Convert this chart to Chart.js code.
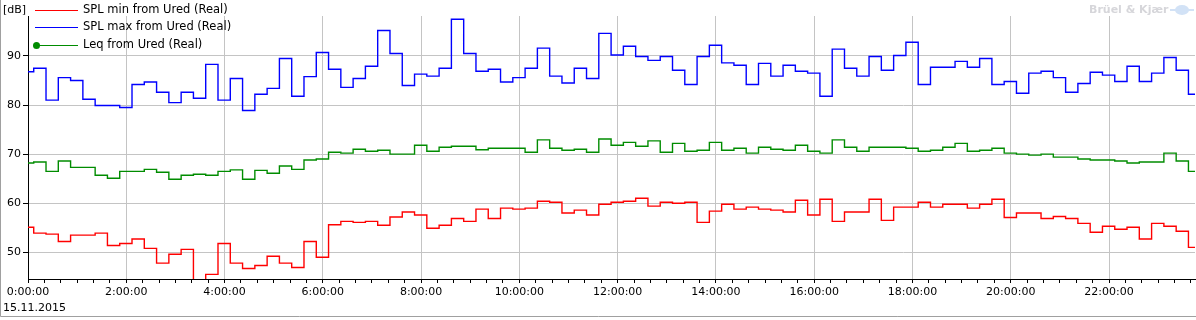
<!DOCTYPE html>
<html>
<head>
<meta charset="utf-8">
<title>Ured SPL 15.11.2015</title>
<script src="https://cdn.jsdelivr.net/npm/chart.js@4.4.0/dist/chart.umd.min.js"></script>
<style>
  html, body { margin: 0; padding: 0; background: #fff; overflow: hidden; }
  #wrap { width: 1196px; height: 320px; }
</style>
</head>
<body>
<div id="wrap"><canvas id="myChart" width="1196" height="320"></canvas></div>
<script>
// interval boundaries (hh:mm), last one is the end of the last interval
const timeMarks = [
  "0:00", "0:07", "0:22", "0:37", "0:52",
  "1:07", "1:22", "1:37", "1:52", "2:07", "2:22", "2:37", "2:52",
  "3:07", "3:22", "3:37", "3:52", "4:07", "4:22", "4:37", "4:52",
  "5:07", "5:22", "5:37", "5:52", "6:07", "6:22", "6:37", "6:52",
  "7:07", "7:22", "7:37", "7:52", "8:07", "8:22", "8:37", "8:52",
  "9:07", "9:22", "9:37", "9:52", "10:07", "10:22", "10:37", "10:52",
  "11:07", "11:22", "11:37", "11:52", "12:07", "12:22", "12:37", "12:52",
  "13:07", "13:22", "13:37", "13:52", "14:07", "14:22", "14:37", "14:52",
  "15:07", "15:22", "15:37", "15:52", "16:07", "16:22", "16:37", "16:52",
  "17:07", "17:22", "17:37", "17:52", "18:07", "18:22", "18:37", "18:52",
  "19:07", "19:22", "19:37", "19:52", "20:07", "20:22", "20:37", "20:52",
  "21:07", "21:22", "21:37", "21:52", "22:07", "22:22", "22:37", "22:52",
  "23:07", "23:22", "23:37", "23:52"
];

const splMin = [
  55.1, 53.9, 53.7, 52.2, 53.5, 53.5, 53.9, 51.4, 51.8, 52.7, 50.8, 47.8,
  49.6, 50.6, 43.0, 45.5, 51.8, 47.8, 46.7, 47.3, 49.2, 47.8, 46.9, 52.2,
  49.0, 55.6, 56.3, 56.1, 56.3, 55.5, 57.2, 58.2, 57.6, 54.9, 55.5, 56.9,
  56.3, 58.8, 56.9, 59.0, 58.8, 59.0, 60.4, 60.2, 58.0, 58.6, 57.6, 59.8,
  60.2, 60.4, 61.0, 59.4, 60.2, 60.0, 60.2, 56.1, 58.4, 59.8, 58.8, 59.2,
  58.8, 58.6, 58.2, 60.6, 57.6, 60.8, 56.3, 58.2, 58.2, 60.8, 56.5, 59.2,
  59.2, 60.2, 59.2, 59.8, 59.8, 59.0, 59.8, 60.8, 57.1, 58.0, 58.0, 56.9,
  57.3, 56.9, 55.9, 54.1, 55.3, 54.7, 55.1, 52.7, 55.9, 55.3, 54.3, 51.0
];

const splMax = [
  86.8, 87.5, 81.0, 85.6, 85.0, 81.2, 79.9, 79.9, 79.5, 84.2, 84.7, 82.6,
  80.5, 82.6, 81.4, 88.3, 81.0, 85.4, 78.9, 82.2, 83.4, 89.5, 81.8, 85.8,
  90.7, 87.3, 83.6, 85.4, 87.9, 95.2, 90.5, 84.0, 86.3, 85.9, 87.5, 97.5,
  90.5, 86.9, 87.3, 84.7, 85.6, 87.5, 91.6, 85.9, 84.5, 87.5, 85.4, 94.6,
  90.2, 92.0, 89.9, 89.1, 89.9, 87.1, 84.2, 89.9, 92.2, 88.6, 88.1, 84.2,
  88.5, 85.9, 88.1, 86.9, 86.5, 81.8, 91.4, 87.5, 85.9, 89.9, 87.1, 90.1,
  92.8, 84.2, 87.7, 87.7, 88.9, 87.7, 89.5, 84.2, 84.8, 82.4, 86.5, 86.9,
  85.6, 82.6, 84.4, 86.7, 86.1, 84.8, 87.9, 84.8, 86.5, 89.7, 87.1, 82.2
];

const leq = [
  68.2, 68.4, 66.5, 68.6, 67.3, 67.3, 65.7, 65.1, 66.5, 66.5, 66.9, 66.3,
  64.9, 65.7, 65.9, 65.7, 66.5, 66.8, 64.9, 66.7, 66.1, 67.6, 66.9, 68.8,
  69.0, 70.4, 70.2, 71.0, 70.6, 70.8, 70.0, 70.0, 71.8, 70.6, 71.4, 71.6,
  71.6, 70.9, 71.2, 71.2, 71.2, 70.4, 72.9, 71.2, 70.8, 71.0, 70.4, 73.1,
  71.8, 72.4, 71.6, 72.7, 70.4, 72.2, 70.6, 70.8, 72.4, 70.8, 71.2, 70.2,
  71.4, 71.0, 70.8, 71.8, 70.6, 70.2, 72.9, 71.4, 70.6, 71.4, 71.4, 71.4,
  71.2, 70.6, 70.8, 71.4, 72.2, 70.6, 70.8, 71.2, 70.2, 70.0, 69.8, 70.0,
  69.4, 69.4, 69.0, 68.8, 68.8, 68.6, 68.2, 68.4, 68.4, 70.2, 68.6, 66.5
];

const yTicks = [50, 60, 70, 80, 90];
const xTickLabels = ["0:00:00", "2:00:00", "4:00:00", "6:00:00", "8:00:00", "10:00:00",
  "12:00:00", "14:00:00", "16:00:00", "18:00:00", "20:00:00", "22:00:00"];
const dateLabel = "15.11.2015";

const toMin = (s) => {
  const [h, m] = s.split(":").map(Number);
  return h * 60 + m;
};

// one point per interval start, plus the end of the last interval
const stepPoints = (vals) =>
  vals.map((v, i) => ({ x: toMin(timeMarks[i]), y: v }))
    .concat({ x: toMin(timeMarks[vals.length]), y: vals[vals.length - 1] });

const FONT = '"DejaVu Sans", Verdana, sans-serif';

// legend, [dB], date, watermark and frame
const decorPlugin = {
  id: "decor",
  afterDraw(chart) {
    const ctx = chart.ctx;
    ctx.save();
    ctx.textBaseline = "middle";
    ctx.fillStyle = "#000";
    ctx.font = "11px " + FONT;
    ctx.fillText("[dB]", 3, 10);
    ctx.fillText(dateLabel, 3, 308);

    chart.data.datasets.forEach((ds, i) => {
      const y = Math.round(10 + i * 17.3) + 0.5;
      ctx.strokeStyle = ds.borderColor;
      ctx.lineWidth = 1;
      ctx.beginPath();
      ctx.moveTo(35, y);
      ctx.lineTo(78, y);
      ctx.stroke();
      if (ds.legendMarker) {
        ctx.fillStyle = ds.borderColor;
        ctx.beginPath();
        ctx.arc(36.5, y, 3.5, 0, Math.PI * 2);
        ctx.fill();
      }
      ctx.fillStyle = "#000";
      ctx.font = "11.5px " + FONT;
      ctx.fillText(ds.label, 83, y);
    });

    // watermark
    ctx.font = "bold 11px " + FONT;
    ctx.fillStyle = "#d6d6da";
    ctx.fillText("Brüel & Kjær", 1089, 10);
    ctx.fillStyle = "#d2e2f6";
    ctx.beginPath();
    ctx.ellipse(1182, 10, 7, 5, 0, 0, Math.PI * 2);
    ctx.fill();
    ctx.fillRect(1170, 9, 24, 2);

    // window frame
    ctx.strokeStyle = "#a0a0a0";
    ctx.lineWidth = 1;
    ctx.beginPath();
    ctx.moveTo(0.5, 0);
    ctx.lineTo(0.5, 316.5);
    ctx.lineTo(1196, 316.5);
    ctx.stroke();
    ctx.restore();
  }
};

const tickFont = { family: FONT, size: 11 };

new Chart(document.getElementById("myChart").getContext("2d"), {
  type: "line",
  data: {
    datasets: [
      {
        label: "SPL min from Ured (Real)",
        data: stepPoints(splMin),
        borderColor: "#ff0000",
      },
      {
        label: "SPL max from Ured (Real)",
        data: stepPoints(splMax),
        borderColor: "#0000ff",
      },
      {
        label: "Leq from Ured (Real)",
        data: stepPoints(leq),
        borderColor: "#008c00",
        legendMarker: true,
      },
    ],
  },
  options: {
    responsive: false,
    animation: false,
    devicePixelRatio: 1,
    layout: { padding: { top: 16, right: 1, left: 0, bottom: 0 } },
    datasets: {
      line: { stepped: true, borderWidth: 1.4, pointRadius: 0, fill: false },
    },
    plugins: {
      legend: { display: false },
      tooltip: { enabled: false },
    },
    scales: {
      x: {
        type: "linear",
        min: 0,
        max: 1425,
        afterBuildTicks: (scale) => {
          const t = [];
          for (let m = 0; m <= scale.max; m += 20) t.push({ value: m });
          scale.ticks = t;
        },
        afterFit: (scale) => { scale.height = 41; },
        ticks: {
          autoSkip: false,
          maxRotation: 0,
          padding: 3,
          color: "#000",
          font: tickFont,
          callback: (v) => (v % 120 === 0 ? xTickLabels[v / 120] : ""),
        },
        grid: {
          color: (c) => (c.tick && c.tick.value % 120 === 0 ? "#c4c4c4" : "rgba(0,0,0,0)"),
          tickColor: "#000",
          tickLength: 4,
        },
        border: { color: "#000" },
      },
      y: {
        min: 44.56,
        max: 98.15,
        afterBuildTicks: (scale) => {
          scale.ticks = yTicks.map((v) => ({ value: v }));
        },
        afterFit: (scale) => { scale.width = 28; },
        ticks: { padding: 2, color: "#000", font: tickFont },
        grid: { color: "#c4c4c4", tickColor: "#000", tickLength: 5 },
        border: { color: "#000" },
      },
    },
  },
  plugins: [decorPlugin],
});
</script>
</body>
</html>
